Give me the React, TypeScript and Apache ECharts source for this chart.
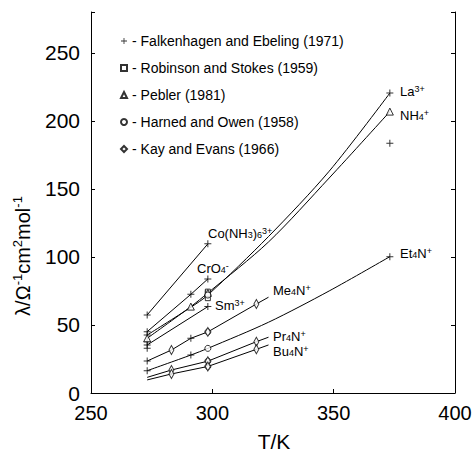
import React, { useEffect, useRef } from 'react';
import * as echarts from 'echarts';

// axis ticks
const xMin = 250;
const xMax = 400;
const yMin = 0;
const yMax = 280;

// Lines for each ion: [T / K, λ]
const coNH3Line = [[273.15, 57.4], [298.15, 109.6]];
const crO4Line = [[273.15, 45.1], [291.15, 72.5], [298.15, 83.8]];
const laLine = [[273.15, 42.6], [291.15, 63.0], [298.15, 72.0], [323.15, 115.0], [348.15, 163.0], [373.15, 220.4]];
const nh4Line = [[273.15, 40.2], [291.15, 63.5], [298.15, 73.5], [323.15, 111.0], [348.15, 158.0], [373.15, 206.8]];
const smLine = [[273.15, 35.3], [298.15, 63.5]];
const me4nLine = [[273.15, 23.5], [283.15, 31.6], [291.15, 40.2], [298.15, 44.9], [318.15, 65.4], [323.15, 70.4]];
const et4nLine = [[273.15, 16.4], [291.15, 27.9], [298.15, 32.8], [323.15, 52.0], [348.15, 75.0], [373.15, 100.2]];
const pr4nLine = [[273.15, 11.5], [283.15, 16.9], [298.15, 23.4], [318.15, 37.7], [323.15, 41.0]];
const bu4nLine = [[273.15, 9.6], [283.15, 14.0], [298.15, 19.5], [318.15, 32.1], [323.15, 35.3]];

// Data sources (markers)
const falkenhagen = [
  [273.15, 57.4], [298.15, 109.6], [273.15, 45.1], [291.15, 72.5], [298.15, 83.8],
  [273.15, 42.6], [298.15, 72.0], [373.15, 220.4], [273.15, 37.7], [273.15, 35.3],
  [298.15, 63.5], [273.15, 32.8], [373.15, 183.6], [273.15, 23.5], [291.15, 40.2],
  [273.15, 16.4], [291.15, 27.9], [373.15, 100.2],
];
const robinsonStokes = [[298.15, 73.5], [298.15, 69.7], [298.15, 74.5]];
const pebler = [[273.15, 40.2], [291.15, 63.5], [298.15, 73.5], [373.15, 206.8]];
const harnedOwen = [[298.15, 72.0], [298.15, 44.9], [298.15, 32.8], [298.15, 23.4], [298.15, 19.5]];
const kayEvans = [
  [283.15, 31.6], [298.15, 44.9], [318.15, 65.4],
  [283.15, 16.9], [298.15, 23.4], [318.15, 37.7],
  [283.15, 14.0], [298.15, 19.5], [318.15, 32.1],
];

const ionLines = [coNH3Line, crO4Line, laLine, nh4Line, smLine, me4nLine, et4nLine, pr4nLine, bu4nLine];
const smoothLines = [laLine, nh4Line, et4nLine];

const sourceNames = [
  'Falkenhagen and Ebeling (1971)',
  'Robinson and Stokes (1959)',
  'Pebler (1981)',
  'Harned and Owen (1958)',
  'Kay and Evans (1966)',
];

const ionLabels = [
  { text: 'Co(NH{s|3}){s|6}{p|3+}', x: 208, y: 233 },
  { text: 'CrO{s|4}{p|-}', x: 197, y: 268 },
  { text: 'Sm{p|3+}', x: 215, y: 305 },
  { text: 'Me{s|4}N{p|+}', x: 273, y: 290 },
  { text: 'Pr{s|4}N{p|+}', x: 273, y: 336 },
  { text: 'Bu{s|4}N{p|+}', x: 273, y: 351 },
  { text: 'La{p|3+}', x: 400, y: 91 },
  { text: 'NH{s|4}{p|+}', x: 400, y: 115 },
  { text: 'Et{s|4}N{p|+}', x: 400, y: 253 },
];

const FONT = '"Liberation Sans", Arial, Helvetica, sans-serif';
const PLUS = 'path://M3,0H4V3H7V4H4V7H3V4H0V3H3Z';

const richSmall = {
  s: { fontSize: 9, lineHeight: 8, verticalAlign: 'bottom', fontFamily: FONT, fill: '#000', color: '#000' },
  p: { fontSize: 9, lineHeight: 8, verticalAlign: 'top', fontFamily: FONT, fill: '#000', color: '#000' },
};
const richAxis = {
  p: { fontSize: 13, lineHeight: 12, verticalAlign: 'top', fontFamily: FONT, fill: '#000', color: '#000' },
};

export default function App() {
  const ref = useRef<HTMLDivElement>(null);
  useEffect(() => {
    document.body.style.margin = '0';
    if (!ref.current) return;
    const chart = echarts.init(ref.current, null, { renderer: 'svg' });

    const hollow = { color: '#fff', borderColor: '#000', borderWidth: 1 };

    const option: any = {
      animation: false,
      backgroundColor: '#fff',
      textStyle: { fontFamily: FONT, color: '#000' },
      grid: { left: 91, right: 21, top: 12, bottom: 58 },
      legend: {
        orient: 'vertical',
        left: 115,
        top: 29,
        itemWidth: 6,
        itemHeight: 6,
        itemGap: 13,
        formatter: (n: string) => '- ' + n,
        textStyle: { fontSize: 14, color: '#000', fontFamily: FONT },
        data: sourceNames,
      },
      xAxis: {
        type: 'value',
        min: xMin,
        max: xMax,
        interval: 50,
        axisLine: { lineStyle: { color: '#000', width: 1 } },
        axisTick: { inside: true, length: 4, lineStyle: { color: '#000' } },
        axisLabel: { fontSize: 20, color: '#000', margin: 10, fontFamily: FONT },
        splitLine: { show: false },
      },
      yAxis: [
        {
          type: 'value',
          min: yMin,
          max: yMax,
          interval: 50,
          axisLine: { show: true, lineStyle: { color: '#000', width: 1 } },
          axisTick: { inside: true, length: 4, lineStyle: { color: '#000' } },
          axisLabel: {
            fontSize: 21,
            color: '#000',
            margin: 11,
            fontFamily: FONT,
            formatter: (v: number) => (v % 50 === 0 ? String(v) : ''),
          },
          splitLine: { show: false },
        },
        {
          type: 'value',
          position: 'right',
          min: yMin,
          max: yMax,
          interval: 50,
          axisLine: { show: true, lineStyle: { color: '#000', width: 1 } },
          axisTick: { inside: true, length: 4, lineStyle: { color: '#000' } },
          axisLabel: { show: false },
          splitLine: { show: false },
        },
      ],
      series: [
        ...ionLines.map((d) => ({
          type: 'line',
          data: d,
          symbol: 'none',
          silent: true,
          smooth: smoothLines.includes(d) ? 0.3 : false,
          lineStyle: { color: '#000', width: 1 },
          z: 2,
        })),
        {
          name: sourceNames[0],
          type: 'scatter',
          data: falkenhagen,
          symbol: PLUS,
          symbolSize: 7,
          itemStyle: { color: '#000', borderWidth: 0 },
          z: 3,
        },
        {
          name: sourceNames[1],
          type: 'scatter',
          data: robinsonStokes,
          symbol: 'rect',
          symbolSize: 5,
          itemStyle: hollow,
          z: 3,
        },
        {
          name: sourceNames[2],
          type: 'scatter',
          data: pebler,
          symbol: 'triangle',
          symbolSize: 7,
          itemStyle: hollow,
          z: 3,
        },
        {
          name: sourceNames[3],
          type: 'scatter',
          data: harnedOwen,
          symbol: 'circle',
          symbolSize: 6,
          itemStyle: hollow,
          z: 3,
        },
        {
          name: sourceNames[4],
          type: 'scatter',
          data: kayEvans,
          symbol: 'diamond',
          symbolSize: [5, 9],
          itemStyle: hollow,
          z: 3,
        },
      ],
      graphic: [
        ...ionLabels.map((l) => ({
          type: 'text',
          x: l.x,
          y: l.y,
          z: 10,
          style: {
            text: l.text,
            rich: richSmall,
            fontSize: 13,
            fontFamily: FONT,
            lineHeight: 13,
            fill: '#000',
            align: 'left',
            textAlign: 'left',
            verticalAlign: 'middle',
            textVerticalAlign: 'middle',
          },
        })),
        {
          type: 'text',
          x: 23,
          y: 256,
          rotation: Math.PI / 2,
          z: 10,
          style: {
            text: 'λ/Ω{p|-1}cm{p|2}mol{p|-1}',
            rich: richAxis,
            fontSize: 20,
            lineHeight: 24,
            fontFamily: FONT,
            fill: '#000',
            align: 'center',
            textAlign: 'center',
            verticalAlign: 'middle',
            textVerticalAlign: 'middle',
          },
        },
        {
          type: 'text',
          x: 274,
          y: 441,
          z: 10,
          style: {
            text: 'T/K',
            fontSize: 21,
            fontFamily: FONT,
            fill: '#000',
            align: 'center',
            textAlign: 'center',
            verticalAlign: 'middle',
            textVerticalAlign: 'middle',
          },
        },
      ],
    };
    chart.setOption(option);
    return () => chart.dispose();
  }, []);
  return <div ref={ref} style={{ width: 476, height: 451 }} />;
}
